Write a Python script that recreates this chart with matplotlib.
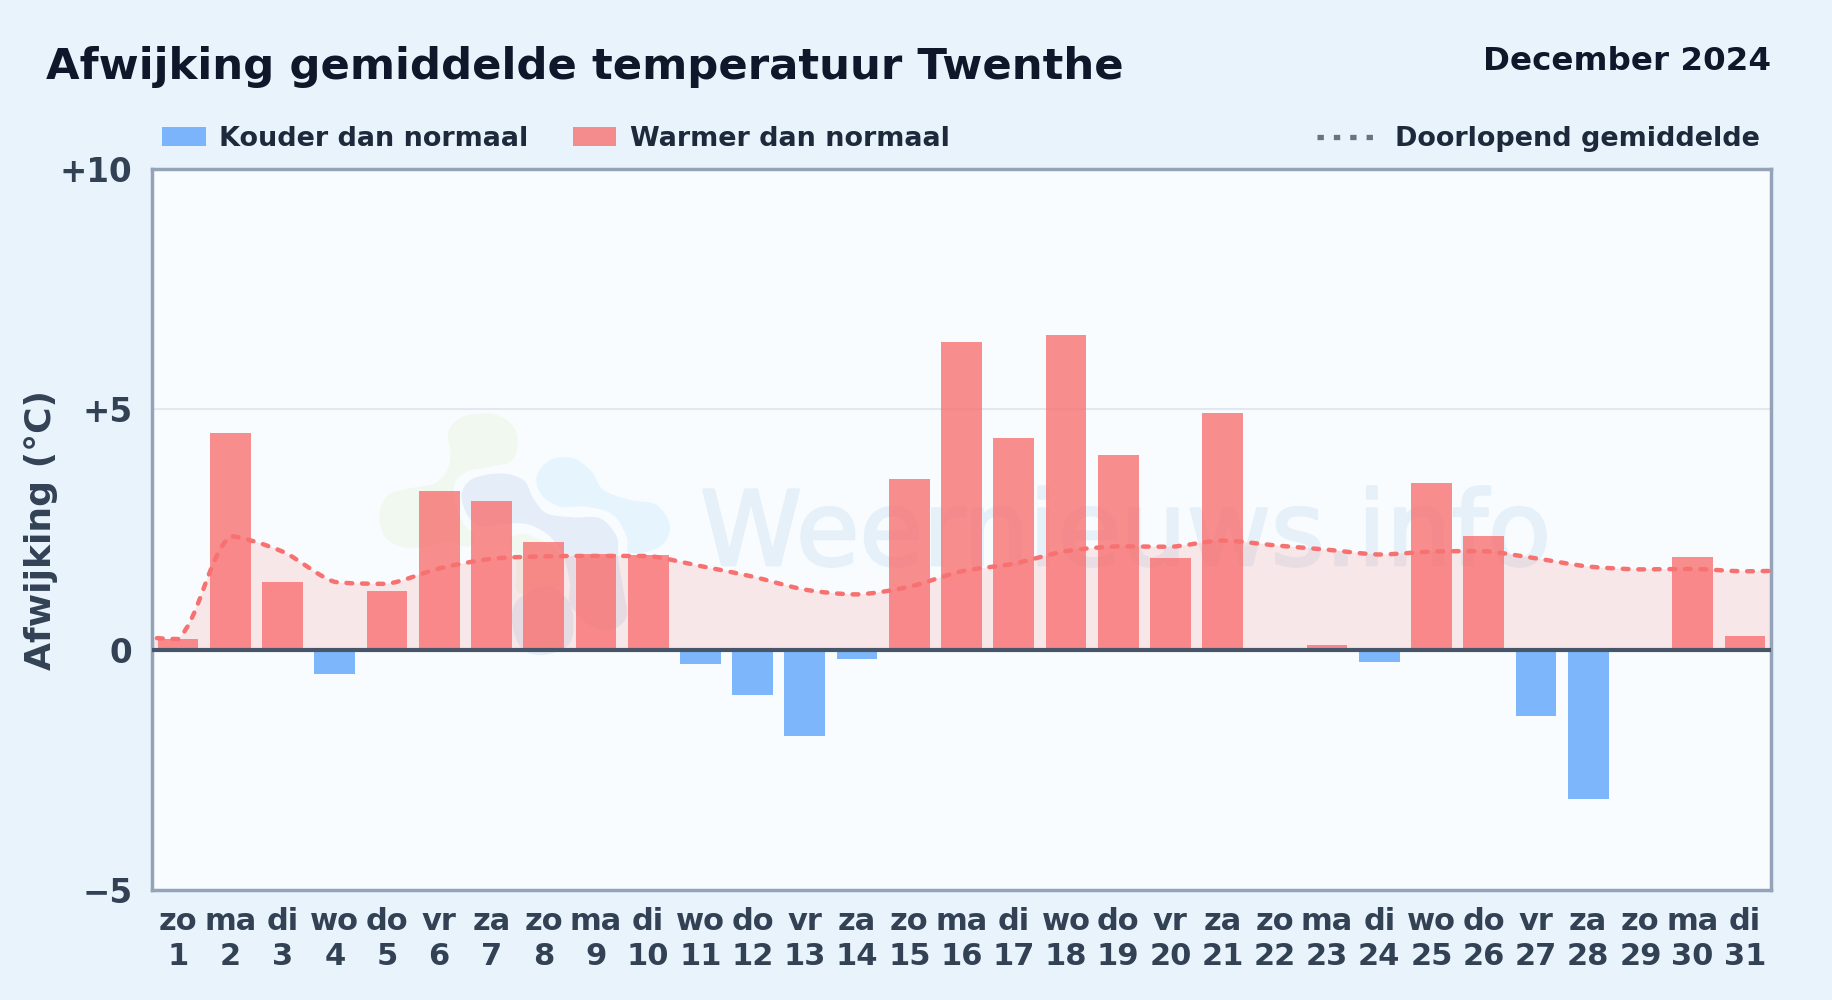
import math
import matplotlib
matplotlib.use('Agg')
import matplotlib.pyplot as plt
import matplotlib.patheffects as pe
from matplotlib.patches import PathPatch, Rectangle
from matplotlib.path import Path
from matplotlib.lines import Line2D

plt.rcParams['font.family'] = ['DejaVu Sans']
plt.rcParams['font.weight'] = 'bold'

days = list(range(1, 32))
weekdays = ['zo', 'ma', 'di', 'wo', 'do', 'vr', 'za'] * 4 + ['zo', 'ma', 'di']
deviation = [0.22, 4.5, 1.4, -0.5, 1.22, 3.3, 3.1, 2.25, 2.0, 1.97, -0.3, -0.95, -1.8, -0.2, 3.55, 6.4,
             4.4, 6.55, 4.05, 1.9, 4.92, 0.0, 0.1, -0.25, 3.47, 2.37, -1.37, -3.1, 0.0, 1.93, 0.28]

# doorlopend gemiddelde, loopt iets door buiten de as (dag 0 en 32)
mean_days = list(range(0, 33))
running_mean = [0.28, 0.22, 2.36, 2.04, 1.41, 1.37, 1.69, 1.89, 1.94, 1.95, 1.95, 1.74, 1.52, 1.25, 1.15, 1.31,
                1.63, 1.79, 2.05, 2.15, 2.14, 2.27, 2.17, 2.08, 1.98, 2.04, 2.05, 1.9, 1.73, 1.67, 1.68, 1.63, 1.65]

y_ticks = [-5, 0, 5, 10]
y_labels = ['\u22125', '0', '+5', '+10']

COLD = '#60a5fa'
WARM = '#f87171'
FIG_W, FIG_H = 1832, 1000
TENSION = 0.3

# vlekken van het logo op de achtergrond, in pixels vanaf (360, 390), maal 3
logo_green = [(265, 125), (310, 80), (400, 72), (460, 110), (472, 170), (450, 215), (380, 232), (320, 245), (285, 280),
              (285, 340), (310, 400), (345, 440), (320, 470), (260, 455), (200, 470), (130, 472), (75, 440), (58, 375),
              (85, 315), (150, 295), (225, 280), (262, 240), (272, 190)]
logo_green_low = [(450, 450), (490, 432), (540, 450), (590, 480), (610, 540), (590, 590), (510, 610), (470, 600), (470, 520)]
logo_dark = [(305, 315), (335, 268), (420, 250), (490, 270), (520, 325), (560, 370), (640, 382), (720, 385), (770, 440),
             (775, 510), (790, 600), (800, 680), (750, 720), (680, 700), (630, 640), (630, 580), (610, 500), (570, 440),
             (510, 405), (440, 400), (370, 410), (325, 380)]
logo_dark_low = [(460, 650), (500, 610), (570, 590), (630, 640), (640, 720), (620, 770), (550, 795), (490, 780), (460, 720)]
logo_light = [(530, 260), (570, 210), (640, 205), (695, 245), (730, 300), (810, 330), (890, 345), (930, 410), (900, 470),
              (810, 490), (800, 440), (760, 375), (680, 350), (600, 350), (545, 315)]


def fx(px):
    return px / FIG_W


def fy(py):
    return 1 - py / FIG_H


def smooth_path(xs, ys):
    # spline met lage spanning, controlepunten blijven binnen elk segment (geen overshoot)
    pts = list(zip(xs, ys))
    before, after = [pts[0]], []
    for i in range(1, len(pts) - 1):
        prev, cur, nxt = pts[i - 1], pts[i], pts[i + 1]
        d01 = math.dist(prev, cur)
        d12 = math.dist(cur, nxt)
        fa = TENSION * d01 / (d01 + d12)
        fb = TENSION * d12 / (d01 + d12)
        before.append((cur[0] - fa * (nxt[0] - prev[0]), cur[1] - fa * (nxt[1] - prev[1])))
        after.append((cur[0] + fb * (nxt[0] - prev[0]), cur[1] + fb * (nxt[1] - prev[1])))
    before.append(pts[-1])
    after = [pts[0]] + after + [pts[-1]]
    verts = [pts[0]]
    codes = [Path.MOVETO]
    for i in range(len(pts) - 1):
        low, high = min(ys[i], ys[i + 1]), max(ys[i], ys[i + 1])
        c1 = (after[i][0], min(max(after[i][1], low), high))
        c2 = (before[i + 1][0], min(max(before[i + 1][1], low), high))
        verts += [c1, c2, pts[i + 1]]
        codes += [Path.CURVE4] * 3
    return verts, codes


def blob(points, color):
    # gesloten vlek van het logo, onder de staven
    pts = [(360 + x / 3, 390 + y / 3) for x, y in points]
    n = len(pts)
    verts = [(fx(pts[0][0]), fy(pts[0][1]))]
    codes = [Path.MOVETO]
    for i in range(n):
        p0, p1, p2, p3 = pts[i - 1], pts[i], pts[(i + 1) % n], pts[(i + 2) % n]
        c1 = (p1[0] + (p2[0] - p0[0]) / 6, p1[1] + (p2[1] - p0[1]) / 6)
        c2 = (p2[0] - (p3[0] - p1[0]) / 6, p2[1] - (p3[1] - p1[1]) / 6)
        for c in (c1, c2, p2):
            verts.append((fx(c[0]), fy(c[1])))
        codes += [Path.CURVE4] * 3
    ax.add_patch(PathPatch(Path(verts, codes), transform=fig.transFigure, facecolor=color,
                           edgecolor='none', zorder=0.5))


fig = plt.figure(figsize=(18.32, 10), dpi=100, facecolor='#e8f3fc')
ax = fig.add_axes([fx(152), fy(890), fx(1771 - 152), (890 - 169) / FIG_H], facecolor='#f8fcff')

# staven
colors = [WARM if v >= 0 else COLD for v in deviation]
ax.bar(days, deviation, width=0.78, color=colors, alpha=0.8, linewidth=0, zorder=3)

# gemiddelde met vlak eronder
verts, codes = smooth_path(mean_days, running_mean)
fill_verts = verts + [(mean_days[-1], 0), (mean_days[0], 0), verts[0]]
fill_codes = codes + [Path.LINETO, Path.LINETO, Path.CLOSEPOLY]
ax.add_patch(PathPatch(Path(fill_verts, fill_codes), facecolor=WARM, alpha=0.15, edgecolor='none', zorder=2))
ax.add_patch(PathPatch(Path(verts, codes), fill=False, edgecolor=WARM, linewidth=3.2, capstyle='round',
                       linestyle=(0, (1.3, 2.2)), zorder=4))

ax.axhline(0, color='#475569', linewidth=3.0, zorder=6)
ax.axhline(5, color='#e2e8f0', linewidth=1.5, zorder=1)

ax.set_xlim(0.5, 31.5)
ax.set_ylim(-5, 10)
ax.set_xticks(days)
ax.set_xticklabels([f'{w}\n{d}' for w, d in zip(weekdays, days)], fontsize=22, color='#334155', linespacing=1.25)
ax.set_yticks(y_ticks)
ax.set_yticklabels(y_labels, fontsize=23.5, color='#334155')
ax.tick_params(axis='x', length=0, pad=12.5)
ax.tick_params(axis='y', length=0, pad=14)
for side in ax.spines.values():
    side.set_color('#94a3b8')
    side.set_linewidth(2.5)

fig.text(fx(41), fy(530), 'Afwijking (°C)', rotation=90, ha='center', va='center', fontsize=26, color='#334155')

# watermerk, zit onder de staven en het vlak
ax.text(fx(700), fy(565), 'Weernieuws.info', transform=fig.transFigure, fontsize=74.3, fontweight='normal',
        color='#e6f0f8', ha='left', va='baseline', zorder=0.6,
        path_effects=[pe.withStroke(linewidth=2, foreground='#e6f0f8')])
blob(logo_green, '#f1f8ef')
blob(logo_green_low, '#f1f8ef')
blob(logo_dark, '#e5eef8')
blob(logo_dark_low, '#e5eef8')
blob(logo_light, '#e6f4fe')

# titels
fig.text(fx(46), fy(79), 'Afwijking gemiddelde temperatuur Twenthe', fontsize=31.2, color='#0f172a', ha='left', va='baseline')
fig.text(fx(1771), fy(70), 'December 2024', fontsize=23.4, color='#0f172a', ha='right', va='baseline')

# legenda
fig.add_artist(Rectangle((fx(162), fy(146)), fx(44), 19 / FIG_H, transform=fig.transFigure, facecolor=COLD, alpha=0.8, linewidth=0))
fig.add_artist(Rectangle((fx(573), fy(146)), fx(43), 19 / FIG_H, transform=fig.transFigure, facecolor=WARM, alpha=0.8, linewidth=0))
fig.add_artist(Line2D([fx(1317), fx(1373)], [fy(137), fy(137)], transform=fig.transFigure, color='#6b7280',
                      linewidth=3.8, linestyle=(0, (1.2, 1.9)), dash_capstyle='butt'))
legend_color = '#1e293b'
fig.text(fx(219), fy(146), 'Kouder dan normaal', fontsize=19.42, color=legend_color, ha='left', va='baseline')
fig.text(fx(630), fy(146), 'Warmer dan normaal', fontsize=19.42, color=legend_color, ha='left', va='baseline')
fig.text(fx(1395), fy(146), 'Doorlopend gemiddelde', fontsize=19.42, color=legend_color, ha='left', va='baseline')

plt.savefig('out.png', dpi=100, facecolor=fig.get_facecolor())
